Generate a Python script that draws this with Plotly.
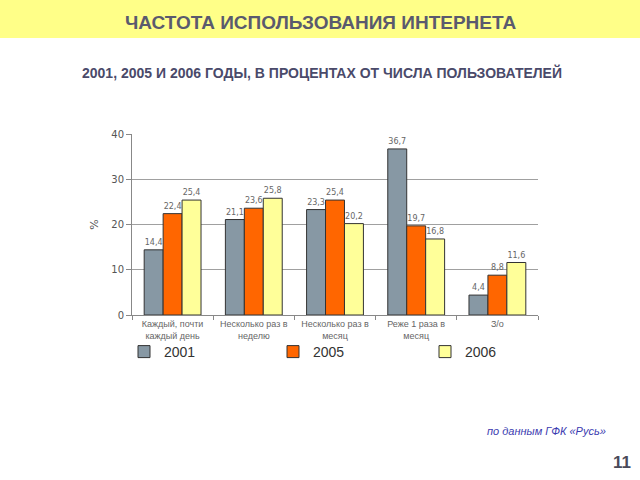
import plotly.graph_objects as go

# Data
categories = ['Каждый, почти<br>каждый день', 'Несколько раз в<br>неделю',
              'Несколько раз в<br>месяц', 'Реже 1 раза в<br>месяц', 'З/о']
years = ['2001', '2005', '2006']
values_2001 = [14.4, 21.1, 23.3, 36.7, 4.4]
values_2005 = [22.4, 23.6, 25.4, 19.7, 8.8]
values_2006 = [25.4, 25.8, 20.2, 16.8, 11.6]
colors = ['#8798A4', '#FF6600', '#FFFF99']

# Plot area in pixels (640x480 page)
W, H = 640, 480
PL, PR, PT, PB = 132, 538, 134, 315


def px(x):
    return (x - PL) / (PR - PL)


def py(y):
    return (PB - y) / (PB - PT)


legend_names = ['legend', 'legend2', 'legend3']
legend_x = [124, 273, 425]

fig = go.Figure()
for year, vals, col, lg in zip(years, [values_2001, values_2005, values_2006], colors, legend_names):
    fig.add_trace(go.Bar(x=categories, y=vals, name=year, legend=lg, showlegend=True,
                         marker={'color': col, 'line': {'color': '#333333', 'width': 1}},
                         text=[f'{v:.1f}'.replace('.', ',') for v in vals],
                         textposition='outside', cliponaxis=False,
                         textfont={'size': 8, 'color': '#666666', 'family': 'DejaVu Sans'}))

annotations = [
    dict(text='<b>ЧАСТОТА ИСПОЛЬЗОВАНИЯ ИНТЕРНЕТА</b>', x=px(320), y=py(22),
         font={'size': 19, 'color': '#5a5a6e', 'family': 'Liberation Sans'}),
    dict(text='<b>2001, 2005 И 2006 ГОДЫ, В ПРОЦЕНТАХ ОТ ЧИСЛА ПОЛЬЗОВАТЕЛЕЙ</b>', x=px(322), y=py(72),
         font={'size': 14, 'color': '#4a4a6a', 'family': 'Liberation Sans'}),
    dict(text='<i>по данным ГФК «Русь»</i>', x=px(546), y=py(431),
         font={'size': 11, 'color': '#3b3bb0', 'family': 'Liberation Sans'}),
    dict(text='<b>11</b>', x=px(622), y=py(462),
         font={'size': 17, 'color': '#4a4a5a', 'family': 'Liberation Sans'}),
]
for a in annotations:
    a.update(xref='paper', yref='paper', showarrow=False, xanchor='center', yanchor='middle')

legend_style = {'orientation': 'h', 'y': py(352), 'xanchor': 'left', 'yanchor': 'middle',
                'font': {'size': 14, 'color': '#333333', 'family': 'Liberation Sans'},
                'bgcolor': 'rgba(0,0,0,0)'}

fig.update_layout(
    width=W, height=H, showlegend=True,
    margin={'l': PL, 'r': W - PR, 't': PT, 'b': H - PB},
    paper_bgcolor='white', plot_bgcolor='white',
    barmode='group', bargap=0.3, bargroupgap=0,
    font={'family': 'DejaVu Sans', 'color': '#555555'},
    xaxis={'tickfont': {'size': 9, 'color': '#666666', 'family': 'Liberation Sans'},
           'ticks': 'outside', 'tickson': 'boundaries',
           'ticklen': 4, 'tickcolor': '#888888', 'showline': True, 'linecolor': '#888888',
           'showgrid': False},
    yaxis={'range': [0, 40], 'dtick': 10, 'tickfont': {'size': 10, 'color': '#555555'},
           'ticks': 'outside', 'ticklen': 5, 'tickcolor': '#888888',
           'showline': True, 'linecolor': '#888888', 'gridcolor': '#a0a0a0', 'gridwidth': 1,
           'zeroline': False,
           'title': {'text': '%', 'font': {'size': 11, 'color': '#555555'}, 'standoff': 10}},
    legend=dict(legend_style, x=px(legend_x[0])),
    legend2=dict(legend_style, x=px(legend_x[1])),
    legend3=dict(legend_style, x=px(legend_x[2])),
    shapes=[dict(type='rect', xref='paper', yref='paper', x0=px(-5), x1=px(645), y0=py(38), y1=py(-5),
                 fillcolor='#FFFF88', line={'width': 0}, layer='below')],
    annotations=annotations,
)

# drop the default page margin so the figure sits at the window's top-left corner
fig.write_html('out.html', config={'displayModeBar': False},
               post_script="document.body.style.margin='0';")
